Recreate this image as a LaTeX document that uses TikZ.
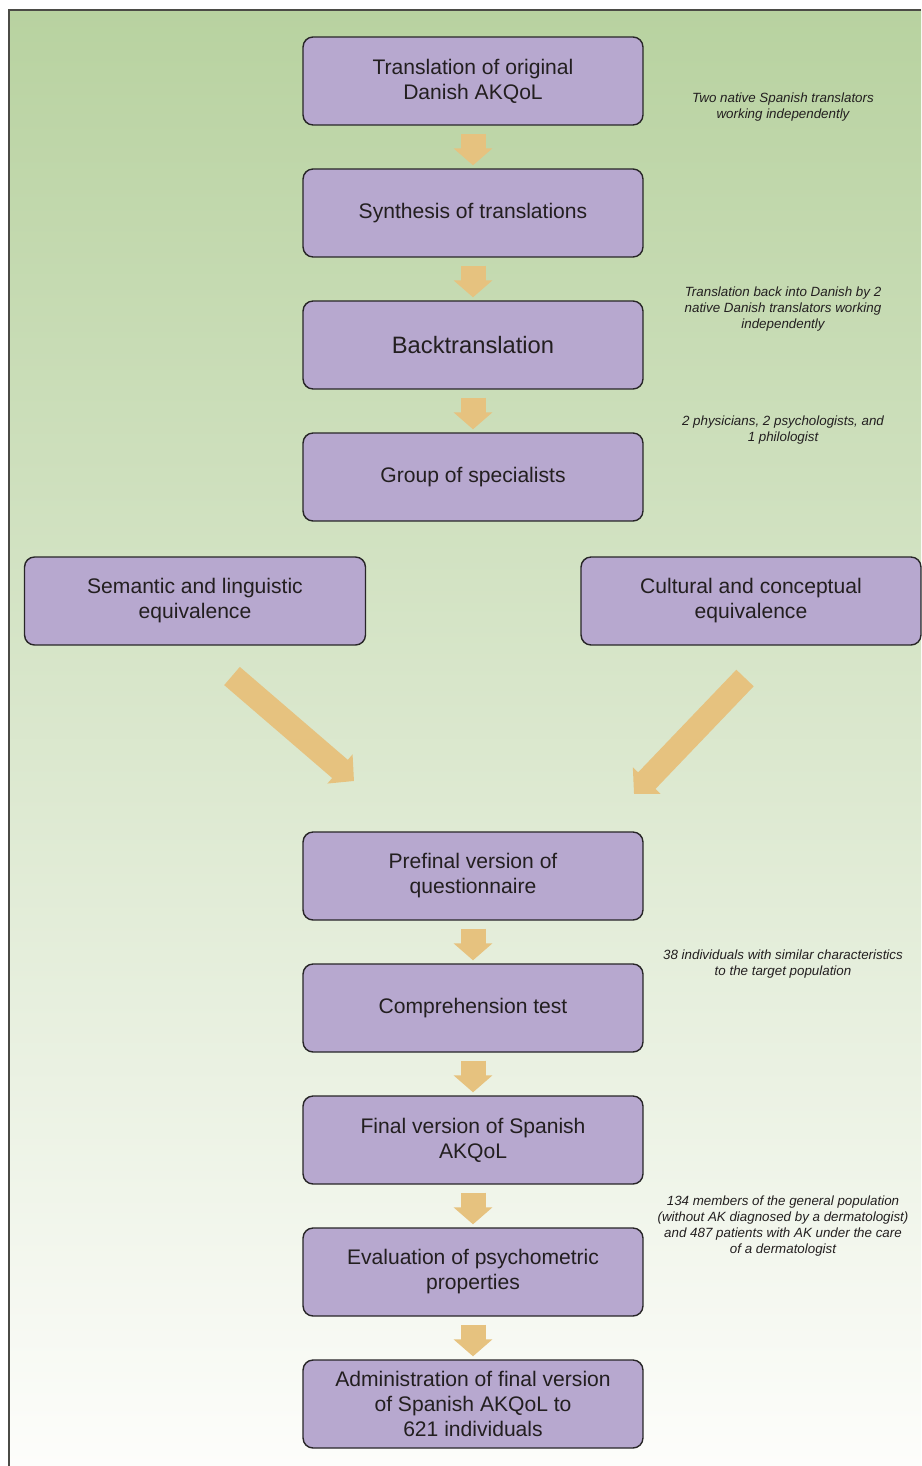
\documentclass[tikz,border=0pt]{standalone}
\usepackage{fontspec}
\setmainfont{Liberation Sans}
\usetikzlibrary{arrows.meta}
\definecolor{boxfill}{RGB}{183,168,207}
\definecolor{boxline}{RGB}{40,38,40}
\definecolor{arrowfill}{RGB}{230,194,127}
\definecolor{bgtop}{RGB}{184,210,160}
\definecolor{bgbot}{RGB}{253,253,251}
\definecolor{framecol}{RGB}{75,75,70}
\definecolor{txt}{RGB}{35,31,32}
\begin{document}
\begin{tikzpicture}[x = 0.02cm, y = -0.02cm,
    box/.style = {draw = boxline, fill = boxfill, rounded corners = 0.2cm, line width = 0.8pt, minimum width = 6.8cm, minimum height = 1.76cm, align = center, text = txt, font = \fontsize{12}{14.2}\selectfont},
    note/.style = {align = center, text = txt, font = \fontsize{7.6}{9.1}\selectfont\itshape},
    blockarrow/.style = {draw = arrowfill, line width = 0.5cm, -{Triangle[length = 0.34cm, width = 0.76cm]}, shorten <= 0.16cm, shorten >= 0.06cm},
    bigarrow/.style = {draw = arrowfill, line width = 0.48cm, -{Triangle[length = 0.37cm, width = 0.75cm]}}]
\useasboundingbox (0,0) rectangle (921,1466);
\shade[top color = bgtop, bottom color = bgbot] (9,10) rectangle (921,1466);
\draw[framecol, line width = 1.2pt] (9,1466) -- (9,10) -- (921,10);

\node[box] (trans) at (473,81) {Translation of original\\Danish AKQoL};
\node[box] (synth) at (473,213) {Synthesis of translations};
\node[box, font = \fontsize{13.5}{16}\selectfont] (back) at (473,345) {Backtranslation};
\node[box] (group) at (473,477) {Group of specialists};
\node[box, minimum width = 6.82cm] (sem) at (195,601) {Semantic and linguistic\\equivalence};
\node[box] (cult) at (751,601) {Cultural and conceptual\\equivalence};
\node[box] (pre) at (473,876) {Prefinal version of\\questionnaire};
\node[box] (comp) at (473,1008) {Comprehension test};
\node[box] (final) at (473,1140) {Final version of Spanish\\AKQoL};
\node[box] (eval) at (473,1272) {Evaluation of psychometric\\properties};
\node[box] (admin) at (473,1404) {Administration of final version\\of Spanish AKQoL to\\621 individuals};

\node[note] (n1) at (783,107) {Two native Spanish translators\\working independently};
\node[note] (n2) at (783,309) {Translation back into Danish by 2\\native Danish translators working\\independently};
\node[note] (n3) at (783,430) {2 physicians, 2 psychologists, and\\1 philologist};
\node[note] (n4) at (783,964) {38 individuals with similar characteristics\\to the target population};
\node[note] (n5) at (783,1226) {134 members of the general population\\(without AK diagnosed by a dermatologist)\\and 487 patients with AK under the care\\of a dermatologist};

\foreach \a/\b in {trans/synth, synth/back, back/group, pre/comp, comp/final, final/eval, eval/admin}
    \draw[blockarrow] (\a) -- (\b);

\coordinate (semtail) at (232,676);
\coordinate (semtip) at (354,781);
\coordinate (culttail) at (745,678);
\coordinate (culttip) at (634,794);
\draw[bigarrow] (semtail) -- (semtip);
\draw[bigarrow] (culttail) -- (culttip);
\end{tikzpicture}
\end{document}
